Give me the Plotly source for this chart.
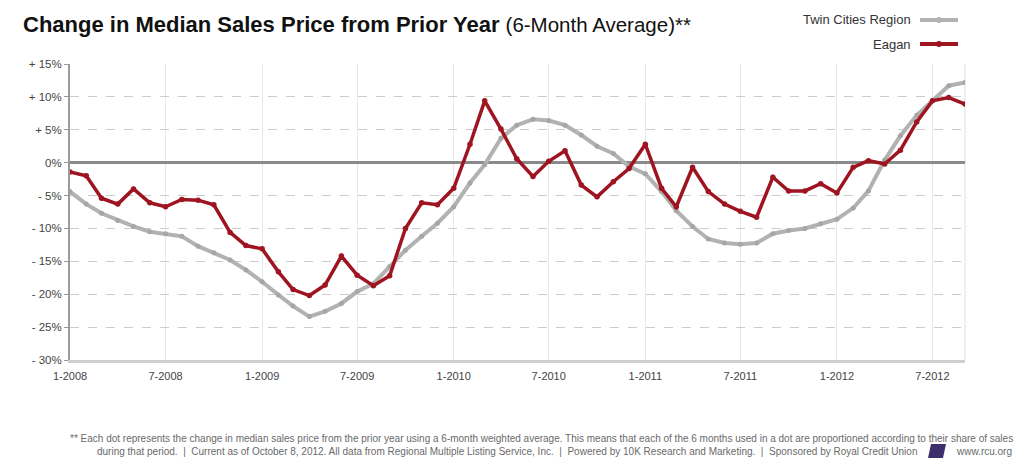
import plotly.graph_objects as go
import pandas as pd

# ---- data ----
months = pd.date_range("2008-01-01", periods=57, freq="MS")

twin_cities = [-4.4, -6.3, -7.7, -8.8, -9.7, -10.5, -10.8, -11.2, -12.7, -13.7,
               -14.8, -16.3, -18.1, -20.1, -21.8, -23.4, -22.6, -21.4, -19.6, -18.4,
               -15.8, -13.3, -11.2, -9.2, -6.7, -3.1, -0.3, 3.7, 5.7, 6.6,
               6.4, 5.7, 4.2, 2.5, 1.4, -0.6, -1.7, -4.4, -7.3, -9.7,
               -11.6, -12.2, -12.4, -12.2, -10.8, -10.3, -10.0, -9.3, -8.6, -6.9,
               -4.3, 0.4, 4.1, 7.2, 9.4, 11.7, 12.2]

eagan = [-1.4, -2.0, -5.4, -6.3, -4.0, -6.1, -6.7, -5.6, -5.7, -6.4,
         -10.6, -12.6, -13.1, -16.6, -19.3, -20.2, -18.6, -14.2, -17.1, -18.7,
         -17.2, -10.0, -6.1, -6.4, -3.9, 2.8, 9.4, 5.1, 0.6, -2.1,
         0.2, 1.8, -3.4, -5.2, -2.9, -0.9, 2.8, -3.9, -6.7, -0.7,
         -4.4, -6.3, -7.4, -8.3, -2.2, -4.3, -4.3, -3.2, -4.6, -0.7,
         0.3, -0.2, 1.9, 6.2, 9.4, 9.9, 8.9]

x_tick_dates = ["2008-01-01", "2008-07-01", "2009-01-01", "2009-07-01", "2010-01-01",
                "2010-07-01", "2011-01-01", "2011-07-01", "2012-01-01", "2012-07-01"]
x_tick_labels = ["1-2008", "7-2008", "1-2009", "7-2009", "1-2010",
                 "7-2010", "1-2011", "7-2011", "1-2012", "7-2012"]

y_tick_vals = [15, 10, 5, 0, -5, -10, -15, -20, -25, -30]
y_tick_labels = ["+ 15%", "+ 10%", "+ 5%", "0%", "- 5%", "- 10%", "- 15%", "- 20%", "- 25%", "- 30%"]

series_names = ["Twin Cities Region", "Eagan"]
gray = "#b2b2b2"
red = "#9e1420"
FONT = "Liberation Sans, Arial, sans-serif"

# ---- layout geometry (pixels) ----
W, H = 1024, 471
L, R, T, B = 70, 965, 64, 360


def px_x(p):
    return (p - L) / (R - L)


def px_y(p):
    return (B - p) / (B - T)


fig = go.Figure()
fig.add_trace(go.Scatter(x=months, y=twin_cities, mode="lines+markers", name=series_names[0],
                         line=dict(color=gray, width=4),
                         marker=dict(color="#a6a6a6", size=5)))
fig.add_trace(go.Scatter(x=months, y=eagan, mode="lines+markers", name=series_names[1],
                         line=dict(color=red, width=3.5),
                         marker=dict(color=red, size=5.5)))

annotations = []
# title
annotations.append(dict(
    xref="paper", yref="paper", x=px_x(21), y=px_y(25), xanchor="left", yanchor="middle",
    showarrow=False,
    text="<b>Change in Median Sales Price from Prior Year</b> "
         "<span style='font-size:20.5px'>(6-Month Average)**</span>",
    font=dict(family=FONT, size=22, color="#111111")))

# legend (text right of which the sample line sits)
shapes = []
for name, col, ypix in [(series_names[0], gray, 20), (series_names[1], red, 44)]:
    annotations.append(dict(xref="paper", yref="paper", x=px_x(913), y=px_y(ypix),
                            xanchor="right", yanchor="middle", showarrow=False, text=name,
                            font=dict(family=FONT, size=13, color="#333333")))
    shapes.append(dict(type="line", xref="paper", yref="paper",
                       x0=px_x(920), x1=px_x(958), y0=px_y(ypix), y1=px_y(ypix),
                       line=dict(color=col, width=4)))
    shapes.append(dict(type="circle", xref="paper", yref="paper",
                       x0=px_x(936), x1=px_x(942), y0=px_y(ypix - 3), y1=px_y(ypix + 3),
                       fillcolor=col, line=dict(width=0)))

# right plot edge
shapes.append(dict(type="line", xref="paper", yref="paper", x0=1, x1=1, y0=0, y1=1,
                   line=dict(color="#e0e0e0", width=1), layer="below"))

# footer
foot_font = dict(family=FONT, size=10, color="#6a6a6a")
annotations.append(dict(
    xref="paper", yref="paper", x=px_x(1015), y=px_y(438), xanchor="right", yanchor="middle",
    showarrow=False, font=foot_font,
    text="** Each dot represents the change in median sales price from the prior year using a 6-month "
         "weighted average. This means that each of the 6 months used in a dot are proportioned "
         "according to their share of sales"))
annotations.append(dict(
    xref="paper", yref="paper", x=px_x(919), y=px_y(451), xanchor="right", yanchor="middle",
    showarrow=False, font=foot_font,
    text="during that period.  |  Current as of October 8, 2012. All data from Regional Multiple "
         "Listing Service, Inc.  |  Powered by 10K Research and Marketing.  |  Sponsored by Royal Credit Union"))
annotations.append(dict(
    xref="paper", yref="paper", x=px_x(1014), y=px_y(451), xanchor="right", yanchor="middle",
    showarrow=False, font=foot_font, text="www.rcu.org"))
shapes.append(dict(type="path", xref="paper", yref="paper",
                   path=f"M {px_x(928)} {px_y(458)} L {px_x(931)} {px_y(444)} L {px_x(946)} {px_y(444)} "
                        f"L {px_x(943)} {px_y(458)} Z",
                   fillcolor="#3d2f6e", line=dict(width=0)))

fig.update_layout(
    width=W, height=H,
    margin=dict(l=L, r=W - R, t=T, b=H - B),
    paper_bgcolor="white", plot_bgcolor="white",
    showlegend=False,
    annotations=annotations,
    shapes=shapes,
    xaxis=dict(
        range=[months[0], months[-1]],
        tickvals=x_tick_dates, ticktext=x_tick_labels,
        showgrid=True, gridcolor="#e8e8e8", gridwidth=1,
        showline=True, linecolor="#cfcfcf", linewidth=3,
        ticks="", ticklabelstandoff=4,
        tickfont=dict(family=FONT, size=11, color="#444444"),
        zeroline=False,
    ),
    yaxis=dict(
        range=[-30, 15],
        tickvals=y_tick_vals, ticktext=y_tick_labels,
        showgrid=True, gridcolor="#cccccc", gridwidth=1, griddash="dash",
        showline=True, linecolor="#9a9a9a", linewidth=2,
        ticks="outside", ticklen=4, tickcolor="#9a9a9a", tickwidth=1,
        tickfont=dict(family=FONT, size=11.5, color="#444444"),
        zeroline=True, zerolinecolor="#8a8a8a", zerolinewidth=2.5,
    ),
)

fig.write_html("out.html")
